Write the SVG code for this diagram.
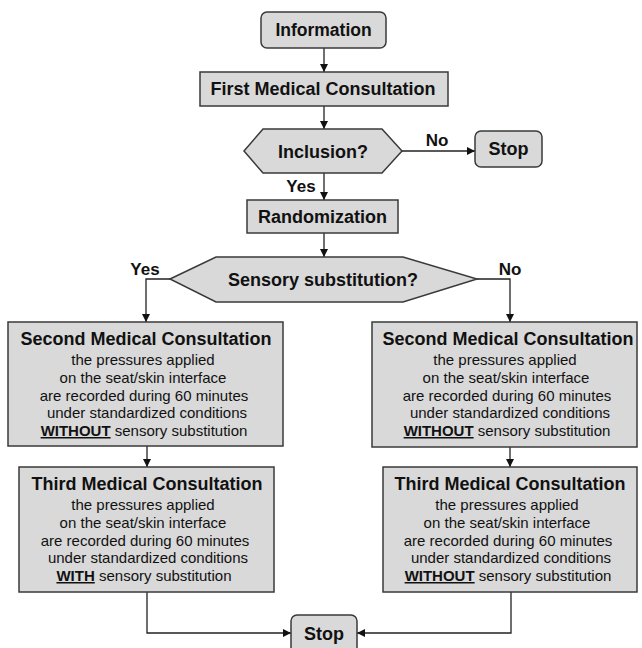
<svg xmlns="http://www.w3.org/2000/svg" width="642" height="648" viewBox="0 0 642 648">
<defs>
<marker id="ah" viewBox="0 0 10 10" refX="10" refY="5" markerWidth="8" markerHeight="8" markerUnits="userSpaceOnUse" orient="auto">
<path d="M0,0 L10,5 L0,10 z" fill="#111"/>
</marker>
<style>
.box{fill:#d9d9d9;stroke:#3a3a3a;stroke-width:1.5}
.ln{fill:none;stroke:#222;stroke-width:1.3}
.t{font-family:"Liberation Sans",Arial,sans-serif;fill:#111;text-anchor:middle}
.h{font-size:18px;font-weight:bold}
.b{font-size:15px}
.bb{font-weight:bold;text-decoration:underline}
.lab{font-family:"Liberation Sans",Arial,sans-serif;font-size:17px;font-weight:bold;fill:#111;text-anchor:middle}
</style>
</defs>
<rect width="642" height="648" fill="#fff"/>
<g id="connectors">
<line class="ln" x1="324" y1="48" x2="324" y2="72" marker-end="url(#ah)"/>
<line class="ln" x1="324" y1="106" x2="324" y2="129" marker-end="url(#ah)"/>
<line class="ln" x1="402" y1="151" x2="475" y2="151" marker-end="url(#ah)"/>
<line class="ln" x1="324" y1="173" x2="324" y2="200" marker-end="url(#ah)"/>
<line class="ln" x1="324" y1="233" x2="324" y2="257" marker-end="url(#ah)"/>
<polyline class="ln" points="170,279 146,279 146,322" marker-end="url(#ah)"/>
<polyline class="ln" points="477,279 510,279 510,322" marker-end="url(#ah)"/>
<line class="ln" x1="147" y1="446" x2="147" y2="467" marker-end="url(#ah)"/>
<line class="ln" x1="510" y1="447" x2="510" y2="467" marker-end="url(#ah)"/>
<polyline class="ln" points="147,592 147,633 291,633" marker-end="url(#ah)"/>
<polyline class="ln" points="511,592 511,633 357,633" marker-end="url(#ah)"/>
<text class="lab" x="437" y="146">No</text>
<text class="lab" x="301" y="192">Yes</text>
<text class="lab" x="145" y="275">Yes</text>
<text class="lab" x="510" y="275">No</text>
</g>
<g id="information">
<rect class="box" x="261" y="12" width="125" height="36" rx="6"/>
<text class="t h" x="323.5" y="36" style="font-size:17.5px">Information</text>
</g>
<g id="first">
<rect class="box" x="200" y="72" width="248" height="34"/>
<text class="t h" x="323" y="95">First Medical Consultation</text>
</g>
<g id="inclusion">
<polygon class="box" points="244,151 263,129 382,129 402,151 382,173 263,173"/>
<text class="t h" x="323" y="158">Inclusion?</text>
</g>
<g id="stop1">
<rect class="box" x="475" y="131" width="67" height="36" rx="6"/>
<text class="t h" x="508.5" y="155">Stop</text>
</g>
<g id="randomization">
<rect class="box" x="247" y="200" width="151" height="33"/>
<text class="t h" x="322.5" y="223">Randomization</text>
</g>
<g id="sensory">
<polygon class="box" points="170,279 216,257 403,257 477,279 403,302 216,302"/>
<text class="t h" x="323" y="286">Sensory substitution?</text>
</g>
<g id="second-left">
<rect class="box" x="8" y="322" width="275" height="124"/>
<text class="t h" x="146" y="345">Second Medical Consultation</text>
<text class="t b" x="143" y="365">the pressures applied</text>
<text class="t b" x="143" y="383">on the seat/skin interface</text>
<text class="t b" x="144" y="401">are recorded during 60 minutes</text>
<text class="t b" x="147" y="418">under standardized conditions</text>
<text class="t b" x="144" y="436"><tspan class="bb">WITHOUT</tspan> sensory substitution</text>
</g>
<g id="second-right">
<rect class="box" x="372" y="322" width="265" height="125"/>
<text class="t h" x="508" y="345">Second Medical Consultation</text>
<text class="t b" x="505" y="365">the pressures applied</text>
<text class="t b" x="506" y="383">on the seat/skin interface</text>
<text class="t b" x="507" y="401">are recorded during 60 minutes</text>
<text class="t b" x="510" y="418">under standardized conditions</text>
<text class="t b" x="507" y="436"><tspan class="bb">WITHOUT</tspan> sensory substitution</text>
</g>
<g id="third-left">
<rect class="box" x="19" y="467" width="255" height="125"/>
<text class="t h" x="147" y="490">Third Medical Consultation</text>
<text class="t b" x="143" y="510">the pressures applied</text>
<text class="t b" x="143" y="528">on the seat/skin interface</text>
<text class="t b" x="145" y="546">are recorded during 60 minutes</text>
<text class="t b" x="148" y="563">under standardized conditions</text>
<text class="t b" x="144" y="581"><tspan class="bb">WITH</tspan> sensory substitution</text>
</g>
<g id="third-right">
<rect class="box" x="383" y="467" width="254" height="125"/>
<text class="t h" x="510" y="490">Third Medical Consultation</text>
<text class="t b" x="507" y="510">the pressures applied</text>
<text class="t b" x="507" y="528">on the seat/skin interface</text>
<text class="t b" x="508" y="546">are recorded during 60 minutes</text>
<text class="t b" x="511" y="563">under standardized conditions</text>
<text class="t b" x="508" y="581"><tspan class="bb">WITHOUT</tspan> sensory substitution</text>
</g>
<g id="stop2">
<rect class="box" x="291" y="615" width="66" height="40" rx="6"/>
<text class="t h" x="324" y="640">Stop</text>
</g>
</svg>
